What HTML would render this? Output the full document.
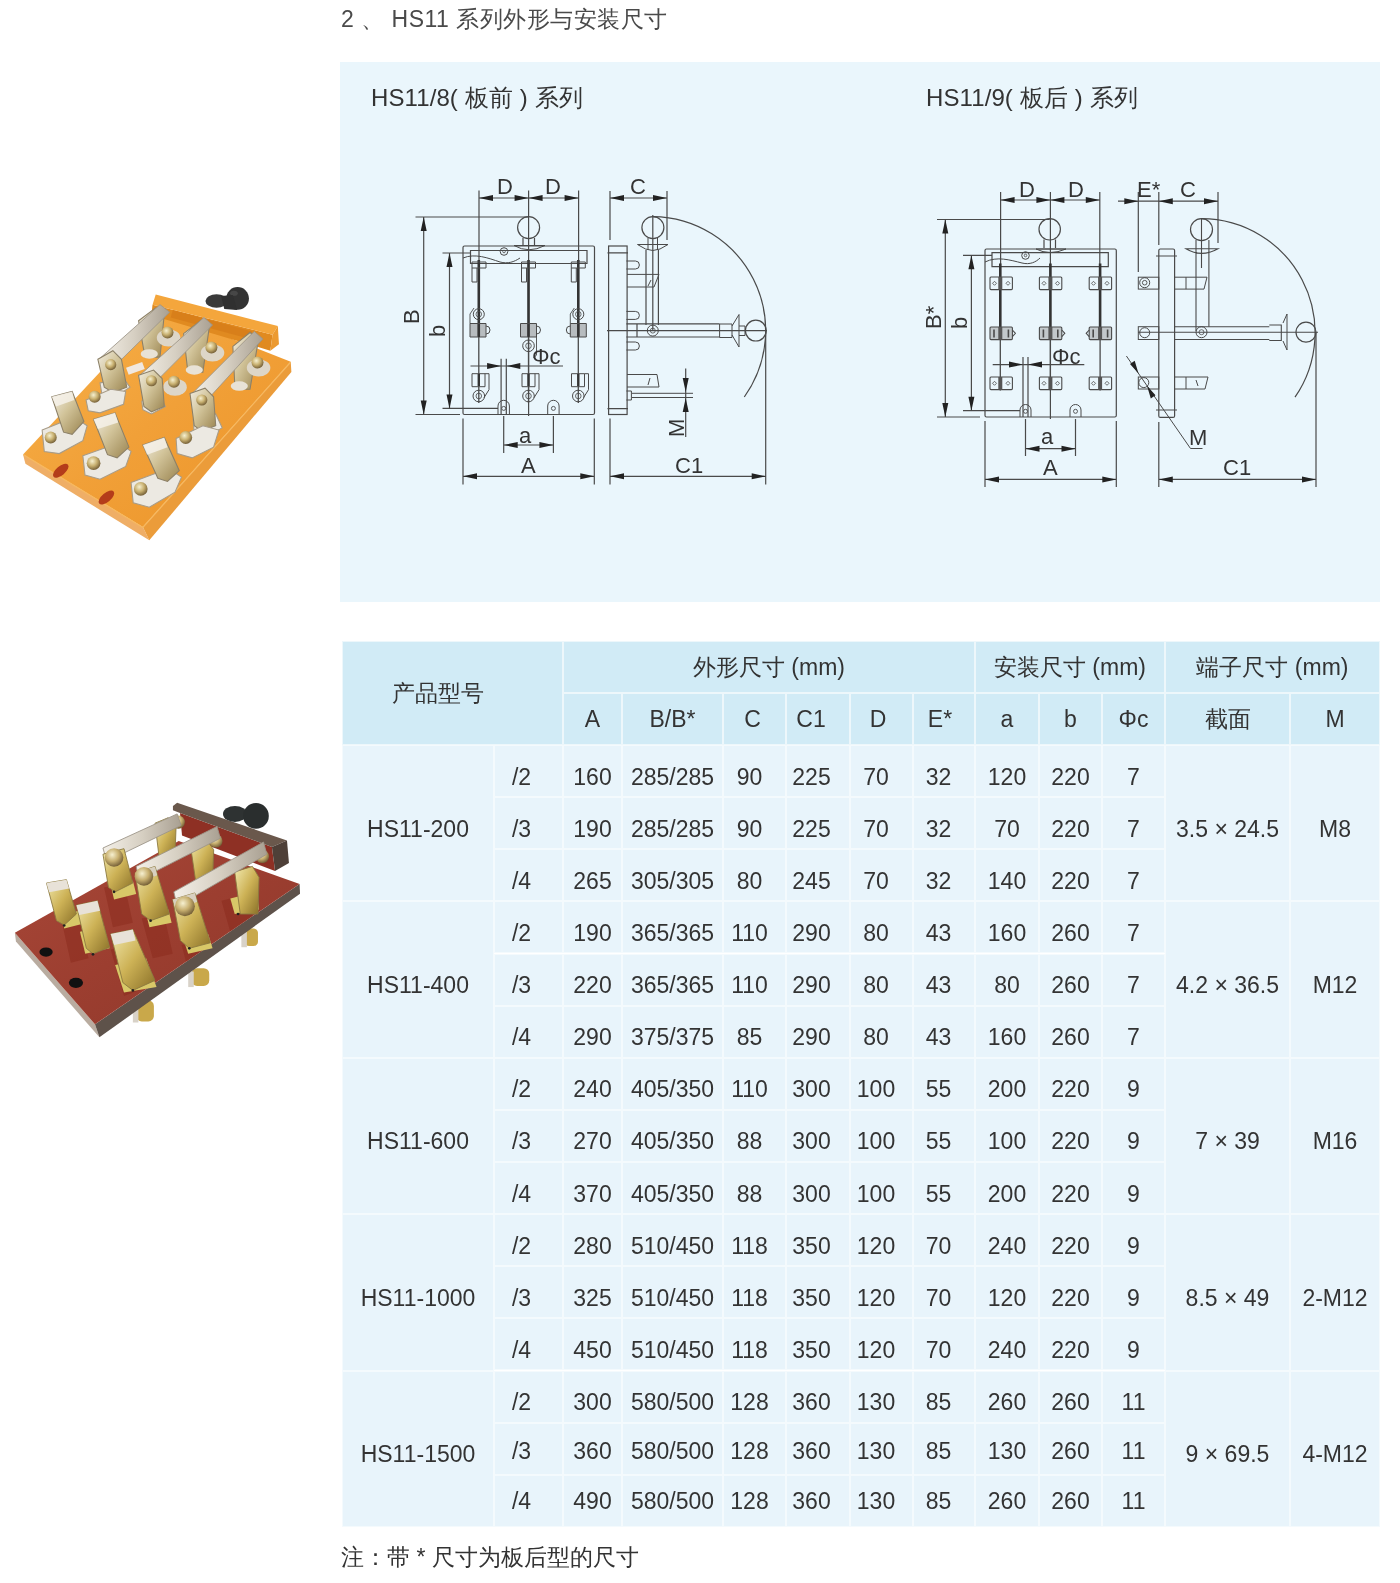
<!DOCTYPE html>
<html><head><meta charset="utf-8">
<style>
html,body{margin:0;padding:0;background:#fff;}
body{width:1400px;height:1583px;position:relative;overflow:hidden;will-change:transform;font-family:"Liberation Sans",sans-serif;color:#333;}
.abs{position:absolute;}
.c{position:absolute;box-sizing:border-box;display:flex;align-items:center;justify-content:center;font-size:23px;border:1px solid rgba(255,255,255,0.65);white-space:nowrap;}
.h{background:#d1ebf6;border-color:rgba(255,255,255,0.6);}
.d{background:#e8f4fb;border-color:rgba(255,255,255,0.5);}
.t{position:relative;top:6px;}
#title{left:341px;top:4px;font-size:23px;color:#4a4a4a;letter-spacing:0.5px;}
#box{left:340px;top:62px;width:1040px;height:540px;background:#eaf6fc;}
.sub{position:absolute;font-size:24px;letter-spacing:0.1px;}
#note{left:341px;top:1542px;font-size:23px;}

</style></head><body>
<div id="title" class="abs">2 、 HS11 系列外形与安装尺寸</div>
<div id="box" class="abs">
<div class="sub" style="left:31px;top:20px">HS11/8( 板前 ) 系列</div>
<div class="sub" style="left:586px;top:20px">HS11/9( 板后 ) 系列</div>
</div>
<svg class="abs" style="left:0;top:0" width="1400" height="620" viewBox="0 0 1400 620">
<g id="d1" fill="none" stroke="#4a4a4a" stroke-width="1.2">
<!-- panel -->
<rect x="463" y="246" width="131.5" height="168.5" rx="1.5"/>
<!-- top bar -->
<path d="M470.5 250.5 H587 V263.5 H470.5 Z"/>
<path d="M463 258 C475 253,488 258,500 262 C508 264,514 262,520 258" stroke-width="1"/>
<!-- handle base + knob -->
<circle cx="528.6" cy="227.6" r="11"/>
<path d="M523 238 V245.5 M534.5 238 V245.5"/>
<path d="M514 245.5 Q528.6 254 545 245.5 Z" stroke-width="1"/>
<circle cx="504" cy="251.5" r="3.8" stroke-width="1"/><circle cx="504" cy="251.5" r="1.3" stroke-width="0.8"/>
<!-- centre line -->
<path d="M528.6 190.5 V416" stroke-width="1.2"/>
<!-- D ext lines -->
<path d="M479 190.5 V262 M578.6 190.5 V262"/>
<!-- D arrow line -->
<path d="M479 198 H578.6"/>
<!-- B dim -->
<path d="M415.5 217 H528.6 M415.5 414.5 H460 M423.7 217 V414.5"/>
<!-- b dim -->
<path d="M442.5 253 H470 M442.5 408.4 H498 M449.5 253 V408.4"/>
<!-- blades -->
<g stroke="#333" stroke-width="2.6">
<path d="M478.8 260 V336 M528.5 260 V336 M578.3 260 V336"/>
</g>
<path d="M478.8 336 V403 M528.5 336 V403 M578.3 336 V403" stroke-width="1.3"/>
<!-- upper contacts -->
<g stroke-width="1">
<path d="M472 262 h14 v6 h-14 z M528.5 262 m-7 0 h14 v6 h-14 z M571.3 262 h14 v6 h-14 z"/>
<path d="M472 268 v14 h5 v-14 M521.5 268 v14 h5 v-14 M571.3 268 v14 h5 v-14"/>
<circle cx="478.8" cy="314.2" r="5.5"/><circle cx="578.3" cy="314.2" r="5.5"/>
<path d="M470 323.5 h16 v13.5 h-16 z M520.5 323.5 h16 v13.5 h-16 z M570.3 323.5 h16 v13.5 h-16 z" fill="#8c8c8c" fill-opacity="0.55"/><path d="M470 314 l4 -6 M570.3 314 l4 -6 M470 314 V323.5 M570.3 314 V323.5 M536.5 337 V355 l-3 3" stroke-width="0.9"/>
<path d="M486 326 a4 4 0 0 1 0 8 M536.5 326 a4 4 0 0 1 0 8 M570.3 326 a4 4 0 0 0 0 8"/>
<circle cx="528.5" cy="345.8" r="5.8"/><g stroke-width="0.8"><circle cx="478.8" cy="314.2" r="2.8"/><circle cx="578.3" cy="314.2" r="2.8"/><circle cx="528.5" cy="345.8" r="2.8"/><circle cx="478.8" cy="396" r="2.8"/><circle cx="528.5" cy="396" r="2.8"/><circle cx="578.3" cy="396" r="2.8"/></g>
<path d="M472 373.7 h13 v13 h-13 z M522 373.7 h13 v13 h-13 z M571.5 373.7 h13 v13 h-13 z"/>
<circle cx="478.8" cy="396" r="5.8"/><circle cx="528.5" cy="396" r="5.8"/><circle cx="578.3" cy="396" r="5.8"/>
<path d="M485 373.7 h4 v16 l-5 8 M535 373.7 h4 v16 l-5 8 M584.5 373.7 h4 v16 l-5 8"/>
</g>
<g stroke="#333" stroke-width="2.4">
<path d="M478.8 374 V386 M528.5 374 V386 M578.3 374 V386 M478.8 324 V337 M528.5 324 V337 M578.3 324 V337"/>
</g>
<!-- Phi c -->
<path d="M470.5 366 H563 M501.1 358.7 V414.5 M506.3 358.7 V414.5"/>
<!-- mount holes -->
<path d="M498 414.5 V406 a5.7 5.7 0 0 1 11.4 0 V414.5 M547.7 414.5 V406 a5.7 5.7 0 0 1 11.4 0 V414.5" stroke-width="1"/>
<circle cx="503.7" cy="408.4" r="2" stroke-width="0.9"/><circle cx="553.4" cy="408.4" r="2" stroke-width="0.9"/>
<!-- a dim -->
<path d="M503.7 416 V453 M553.4 416 V453 M503.7 445 H553.4"/>
<!-- A dim -->
<path d="M463 418.6 V484.5 M594.3 418.6 V484.5 M463 476.3 H594.3"/>
<!-- side view -->
<rect x="608.6" y="246" width="18.5" height="168.5"/>
<path d="M610 191 V240 M610 418.6 V484.5 M667 191 V240 M610 198 H667"/>
<path d="M607.5 252.8 H628 M607.5 408.6 H628" stroke-width="1.2"/>
<!-- side knob -->
<circle cx="652.9" cy="227.6" r="11"/>
<path d="M637.5 244.5 H668 L660 249 Q652.8 252 645.5 249 Z" stroke-width="1"/>
<path d="M646 250 V325 M658.4 250 V325 M652.8 215 V330" /><path d="M648 238 V250 M657.5 238 V250" stroke-width="1"/>
<path d="M627 274.4 H659 L654 287 H627 M651 280 L648 286" stroke-width="1"/>
<!-- arc -->
<path d="M652.9 216.6 A114 114 0 0 1 744.3 397"/>
<!-- horizontal handle -->
<path d="M607 330.6 H767 M626.4 323.8 H719.6 M626.4 337 H719.6 M637 323.8 V337"/>
<path d="M719.6 324 H732 V337.5 H719.6 Z M732 326 L739 314.5 V347 L732 335 M739 326 H745 V335.5 H739" stroke-width="1"/>
<circle cx="755.8" cy="330.6" r="10.4"/>
<circle cx="652.8" cy="330.6" r="5.5" stroke-width="1"/><circle cx="652.8" cy="330.6" r="2.5" stroke-width="0.8"/>
<!-- bolts on side panel -->
<path d="M626.4 261 h9 a4 4 0 0 1 0 8 h-9 M626.4 311.4 h9 a4 4 0 0 1 0 8 h-9 M626.4 342 h9 a4 4 0 0 1 0 8 h-9 M626.4 391 h5 v9 h-5" stroke-width="1"/>
<path d="M627 374.5 H657 L659 387 H627 M650 378 L648 385" stroke-width="1"/>
<path d="M632 393.3 H693 M632 397.5 H693" stroke-width="1"/>
<!-- M dim -->
<path d="M685.7 368.6 V437"/>
<!-- C1 dim -->
<path d="M765.7 331 V484.5 M610 476.3 H765.7"/>
</g>
<g fill="#222" stroke="none">
<!-- arrowheads -->
<path d="M479 198 l14 -3 v6 z M528.6 198 l-14 -3 v6 z M528.6 198 l14 -3 v6 z M578.6 198 l-14 -3 v6 z"/>
<path d="M423.7 217 l-3 14 h6 z M423.7 414.5 l-3 -14 h6 z"/>
<path d="M449.5 253 l-3 14 h6 z M449.5 408.4 l-3 -14 h6 z"/>
<path d="M501.1 366 l-14 -3 v6 z M506.3 366 l14 -3 v6 z"/>
<path d="M503.7 445 l14 -3 v6 z M553.4 445 l-14 -3 v6 z"/>
<path d="M463 476.3 l14 -3 v6 z M594.3 476.3 l-14 -3 v6 z"/>
<path d="M610 198 l14 -3 v6 z M667 198 l-14 -3 v6 z"/>
<path d="M610 476.3 l14 -3 v6 z M765.7 476.3 l-14 -3 v6 z"/>
<path d="M685.7 392 l-3 -14 h6 z M685.7 398 l-3 14 h6 z"/>
</g>
<g fill="#333" stroke="none" font-family="Liberation Sans, sans-serif" font-size="22" style="will-change:transform">
<text x="497" y="194">D</text><text x="545" y="194">D</text>
<text x="630" y="194">C</text>
<text x="519" y="443">a</text>
<text x="521" y="473">A</text>
<text x="675" y="473">C1</text>
<text x="532" y="364">Φc</text>
<text transform="translate(419,324) rotate(-90)">B</text>
<text transform="translate(445,337) rotate(-90)">b</text>
<text transform="translate(684,437) rotate(-90)">M</text>
</g>

<g id="d2" fill="none" stroke="#4a4a4a" stroke-width="1.2">
<rect x="985" y="249" width="131.3" height="168" rx="1.5"/>
<path d="M992 252.7 H1108.3 V266.6 H992 Z"/>
<path d="M985 262 C997 256,1010 260,1022 263 C1030 265,1036 262,1040 258" stroke-width="1"/>
<circle cx="1025.5" cy="255.5" r="3.8" stroke-width="1"/><circle cx="1025.5" cy="255.5" r="1.3" stroke-width="0.8"/>
<circle cx="1049.7" cy="229.3" r="10.7"/>
<path d="M1044 239.5 V248 M1055.5 239.5 V248"/>
<path d="M1036 249 Q1049.7 256 1066 249 Z" stroke-width="1"/>
<path d="M1050.4 192 V419"/>
<path d="M1000.6 192 V264 M1099.8 192 V264 M1000.6 200 H1099.8"/>
<path d="M937 219.5 H1049.7 M937 417 H980 M945.3 219.5 V417"/>
<path d="M963 255.3 H992 M963 410.7 H1020 M971.4 255.3 V410.7"/>
<g stroke="#333" stroke-width="2.6">
<path d="M1000.3 263.5 V337.4 M1050.4 263.5 V337.4 M1100.1 263.5 V337.4"/>
</g>
<path d="M1000.3 337 V390.5 M1050.4 337 V390.5 M1100.1 337 V390.5" stroke-width="1.3"/>
<g stroke-width="1.1">
<rect x="990" y="277" width="22.4" height="12.6" rx="1"/><rect x="1039.4" y="277" width="22.4" height="12.6" rx="1"/><rect x="1089.2" y="277" width="22.4" height="12.6" rx="1"/>
<g fill="#9a9a9a" fill-opacity="0.5"><rect x="990" y="327" width="22.4" height="12.6" rx="1"/><rect x="1039.4" y="327" width="22.4" height="12.6" rx="1"/><rect x="1089.2" y="327" width="22.4" height="12.6" rx="1"/></g><path d="M994 329.5 v8 M1008.4 329.5 v8 M1043.4 329.5 v8 M1057.8 329.5 v8 M1093.2 329.5 v8 M1107.6 329.5 v8" stroke-width="1.6"/>
<rect x="990" y="377" width="22.4" height="12.6" rx="1"/><rect x="1039.4" y="377" width="22.4" height="12.6" rx="1"/><rect x="1089.2" y="377" width="22.4" height="12.6" rx="1"/>
<path d="M1012.4 330 l3 3.3 l-3 3.3 M1061.8 330 l3 3.3 l-3 3.3 M1089.2 330 l-3 3.3 l3 3.3"/><g stroke-width="0.8"><path d="M992.5 283.3 l2 -2 l2 2 l-2 2 z"/><path d="M992.5 383.3 l2 -2 l2 2 l-2 2 z"/><path d="M1006 283.3 l2 -2 l2 2 l-2 2 z"/><path d="M1006 383.3 l2 -2 l2 2 l-2 2 z"/><path d="M1042 283.3 l2 -2 l2 2 l-2 2 z"/><path d="M1042 383.3 l2 -2 l2 2 l-2 2 z"/><path d="M1055.5 283.3 l2 -2 l2 2 l-2 2 z"/><path d="M1055.5 383.3 l2 -2 l2 2 l-2 2 z"/><path d="M1091.5 283.3 l2 -2 l2 2 l-2 2 z"/><path d="M1091.5 383.3 l2 -2 l2 2 l-2 2 z"/><path d="M1105 283.3 l2 -2 l2 2 l-2 2 z"/><path d="M1105 383.3 l2 -2 l2 2 l-2 2 z"/></g>
</g>
<g stroke="#555" stroke-width="4">
<path d="M1000.3 277 V289.6 M1050.4 277 V289.6 M1100.1 277 V289.6 M1000.3 327 V339.6 M1050.4 327 V339.6 M1100.1 327 V339.6 M1000.3 377 V389.6 M1050.4 377 V389.6 M1100.1 377 V389.6"/>
</g>
<path d="M992.7 364.6 H1084.3 M1023 357 V417 M1028 357 V417"/>
<path d="M1020 417 V410 a5.5 5.5 0 0 1 11 0 V417 M1070 417 V410 a5.5 5.5 0 0 1 11 0 V417" stroke-width="1"/>
<circle cx="1025.5" cy="411.3" r="2" stroke-width="0.9"/><circle cx="1075.5" cy="411.3" r="2" stroke-width="0.9"/>
<path d="M1025.5 419 V456 M1075.5 419 V456 M1025.5 448.7 H1075.5"/>
<path d="M985 421 V487 M1116.3 421 V487 M985 479.4 H1116.3"/>
<!-- side view -->
<rect x="1158.8" y="249" width="15.8" height="168.4" rx="1.5"/>
<path d="M1156 256 H1177 M1156 410 H1177" stroke-width="1"/>
<path d="M1138.3 192 V272 M1158.8 192 V245 M1218 192 V243 M1118 201.2 H1218"/>
<circle cx="1201.5" cy="229.6" r="11"/>
<path d="M1186 248.8 Q1201.5 258 1218 248.8 Z M1196 240 V270 M1208.9 240 V270 M1196 270 V331 M1208.9 262 V326.7" stroke-width="1.1"/>
<path d="M1174.6 277.2 H1207 L1204 289.1 H1174.6 M1186 277.2 V289.1" stroke-width="1"/>
<rect x="1138.3" y="277.2" width="20.5" height="11.9" stroke-width="1"/>
<circle cx="1144.7" cy="282.7" r="5" stroke-width="1"/><circle cx="1144.7" cy="282.7" r="2.3" stroke-width="0.9"/>
<path d="M1138 332.2 H1318 M1174.6 326.7 H1269.3 M1174.6 339.5 H1269.3 M1269.3 325 H1281.3 V340.5 H1269.3" stroke-width="1.1"/>
<path d="M1283 323 L1287 314 V350 L1283 341" stroke-width="1"/>
<circle cx="1306" cy="332.2" r="10"/>
<circle cx="1201.5" cy="332.2" r="5.5" stroke-width="1"/><circle cx="1201.5" cy="332.2" r="2.5" stroke-width="0.8"/><path d="M1201.5 218 V268" stroke-width="1.1"/>
<rect x="1138.3" y="326.7" width="20.5" height="12.8" stroke-width="1"/>
<circle cx="1144.7" cy="332.7" r="5" stroke-width="1"/>
<path d="M1174.6 377 H1208 L1205 389 H1174.6 M1186 377 V389 M1196 380 L1198 386" stroke-width="1"/>
<rect x="1138.3" y="377" width="20.5" height="12" stroke-width="1"/>
<circle cx="1143.8" cy="382.6" r="5" stroke-width="1"/>
<path d="M1126.4 356 L1190.5 448.5 H1202.5" stroke-width="1"/>
<path d="M1201.5 218.6 A114 114 0 0 1 1295 397.2"/>
<path d="M1316 332.2 V487 M1158.8 422 V487 M1158.8 479.4 H1316"/>
</g>
<g fill="#222" stroke="none">
<path d="M1000.6 200 l14 -3 v6 z M1050.4 200 l-14 -3 v6 z M1050.4 200 l14 -3 v6 z M1099.8 200 l-14 -3 v6 z"/>
<path d="M945.3 219.5 l-3 14 h6 z M945.3 417 l-3 -14 h6 z"/>
<path d="M971.4 255.3 l-3 14 h6 z M971.4 410.7 l-3 -14 h6 z"/>
<path d="M1023 364.6 l-14 -3 v6 z M1028 364.6 l14 -3 v6 z"/>
<path d="M1025.5 448.7 l14 -3 v6 z M1075.5 448.7 l-14 -3 v6 z"/>
<path d="M985 479.4 l14 -3 v6 z M1116.3 479.4 l-14 -3 v6 z"/>
<path d="M1138.3 201.2 l-14 -3 v6 z M1158.8 201.2 l14 -3 v6 z M1218 201.2 l-14 -3 v6 z"/>
<path d="M1158.8 479.4 l14 -3 v6 z M1316 479.4 l-14 -3 v6 z"/>
<path d="M1138.5 373.5 l-8.5 -9.5 l4.7 -3.3 z M1147 385.8 l8.5 9.5 l-4.7 3.3 z"/>
</g>
<g fill="#333" stroke="none" font-family="Liberation Sans, sans-serif" font-size="22" style="will-change:transform">
<text x="1019" y="197">D</text><text x="1068" y="197">D</text>
<text x="1137" y="197">E*</text>
<text x="1180" y="197">C</text>
<text x="1041" y="444">a</text>
<text x="1043" y="475">A</text>
<text x="1223" y="475">C1</text>
<text x="1052" y="364">Φc</text>
<text x="1189" y="445">M</text>
<text transform="translate(941,329) rotate(-90)">B*</text>
<text transform="translate(967,329) rotate(-90)">b</text>
</g>

</svg>
<svg class="abs" style="left:0;top:0" width="340" height="1583" viewBox="0 0 340 1583">
<defs>
<linearGradient id="or1" x1="0" y1="0" x2="1" y2="1">
<stop offset="0" stop-color="#f7b24a"/><stop offset="0.5" stop-color="#f1a038"/><stop offset="1" stop-color="#ec9428"/>
</linearGradient>
<linearGradient id="sil" x1="0" y1="0" x2="1" y2="0">
<stop offset="0" stop-color="#f4f0e8"/><stop offset="0.5" stop-color="#d6cfc2"/><stop offset="1" stop-color="#a9a092"/>
</linearGradient>
<linearGradient id="gold" x1="0" y1="0" x2="1" y2="1">
<stop offset="0" stop-color="#f2eee4"/><stop offset="0.45" stop-color="#d2c49a"/><stop offset="1" stop-color="#9a8450"/>
</linearGradient>
<radialGradient id="nut" cx="0.4" cy="0.35" r="0.7">
<stop offset="0" stop-color="#f6f0d0"/><stop offset="0.5" stop-color="#c8b070"/><stop offset="1" stop-color="#6a5530"/>
</radialGradient>
<radialGradient id="blk" cx="0.4" cy="0.35" r="0.7">
<stop offset="0" stop-color="#6a6a6a"/><stop offset="0.5" stop-color="#2c2c2c"/><stop offset="1" stop-color="#111"/>
</radialGradient>
</defs>
<g transform="translate(10 280) scale(0.21429)">
<!-- board sides -->
<path d="M61 814 L620 1153 L650 1215 L72 858 Z" fill="#efae66"/>
<path d="M620 1153 L1310 381 L1313 429 L650 1215 Z" fill="#eb9c3a"/>
<!-- board top -->
<path d="M61 814 L620 1153 L1310 381 L690 140 Z" fill="url(#or1)"/>
<path d="M64 816 L620 1155 L1309 384" fill="none" stroke="#f6b860" stroke-width="6"/>
<!-- slots -->
<ellipse cx="237" cy="890" rx="44" ry="21" transform="rotate(-40 237 890)" fill="#b43c1a"/>
<ellipse cx="450" cy="1015" rx="44" ry="21" transform="rotate(-40 450 1015)" fill="#b43c1a"/>
<!-- handle bar -->
<path d="M665 115 L1225 255 L1215 330 L660 165 Z" fill="#e08a20"/>
<path d="M680 68 L1250 215 L1225 255 L665 115 Z" fill="#f4a63c"/>
<path d="M1225 255 L1250 215 L1255 300 L1215 330 Z" fill="#ec9a30"/>
<path d="M760 140 L1130 240 L1120 275 L750 175 Z" fill="#d47a18" opacity="0.7"/>
<!-- knob -->
<ellipse cx="964" cy="98" rx="52" ry="32" fill="#3a3a3a"/>
<circle cx="1062" cy="86" r="53" fill="#333"/><ellipse cx="1045" cy="62" rx="18" ry="12" fill="#555" opacity="0.6"/>
<path d="M985 75 L1040 70 L1060 140 L1000 135 Z" fill="#303030"/>
<!-- back jaw clips -->
<g fill="url(#gold)" stroke="#8c8068" stroke-width="5">
<path d="M600 190 L680 130 L720 160 L700 360 L630 360 Z"/>
<path d="M810 250 L890 190 L930 220 L900 430 L830 430 Z"/>
<path d="M1040 310 L1120 245 L1160 275 L1120 510 L1050 510 Z"/>
</g>
<g fill="#e8e2d6">
<ellipse cx="650" cy="345" rx="40" ry="22"/><ellipse cx="860" cy="420" rx="40" ry="22"/><ellipse cx="1070" cy="495" rx="40" ry="22"/>
</g>
<!-- back nuts -->
<g fill="#ddd6c8"><ellipse cx="740" cy="270" rx="55" ry="40"/><ellipse cx="945" cy="340" rx="55" ry="40"/><ellipse cx="1160" cy="410" rx="55" ry="40"/><ellipse cx="770" cy="500" rx="55" ry="40"/></g>
<g fill="url(#nut)"><circle cx="735" cy="245" r="28"/><circle cx="940" cy="315" r="28"/><circle cx="1155" cy="385" r="28"/><circle cx="765" cy="475" r="28"/></g>
<!-- blades -->
<g fill="url(#sil)" stroke="#9c9488" stroke-width="4">
<path d="M415 370 L700 115 L745 150 L485 405 Z"/>
<path d="M600 450 L905 175 L945 210 L670 485 Z"/>
<path d="M850 530 L1140 240 L1180 275 L915 565 Z"/>
</g>
<!-- hinge pads -->
<g fill="#ece9e2" stroke="#a89c88" stroke-width="5">
<path d="M420 480 L530 460 L560 500 L470 560 L430 540 Z"/>
<path d="M615 565 L700 545 L725 590 L660 625 L620 605 Z"/>
<path d="M855 650 L960 625 L990 690 L900 740 L860 720 Z"/>
</g>
<!-- hinges -->
<g fill="url(#gold)" stroke="#8c8068" stroke-width="5">
<path d="M410 370 L480 330 L520 370 L545 500 L480 525 L440 500 Z"/>
<path d="M600 445 L670 420 L710 460 L720 590 L660 615 L625 590 Z"/>
<path d="M840 530 L910 505 L950 545 L960 680 L895 705 L860 680 Z"/>
</g>
<g fill="url(#nut)"><circle cx="470" cy="395" r="26"/><circle cx="660" cy="470" r="26"/><circle cx="895" cy="560" r="26"/></g>
<!-- front pads -->
<g fill="#ece9e2" stroke="#a89c88" stroke-width="5">
<path d="M150 700 L300 640 L360 680 L340 750 L230 810 L160 800 Z"/>
<path d="M340 820 L510 760 L565 800 L540 870 L420 930 L350 910 Z"/>
<path d="M565 945 L740 880 L800 920 L770 990 L650 1060 L575 1040 Z"/>
<path d="M775 740 L900 680 L975 700 L950 780 L850 830 L780 810 Z"/>
<path d="M355 560 L470 510 L540 520 L530 580 L420 620 L365 610 Z"/>
</g>
<!-- front clips -->
<g fill="url(#gold)" stroke="#8c8068" stroke-width="5">
<path d="M195 545 L290 520 L345 660 L290 720 L250 710 Z"/>
<path d="M390 650 L490 620 L555 780 L500 830 L455 815 Z"/>
<path d="M620 770 L720 735 L790 890 L735 940 L690 925 Z"/>
</g>
<g fill="#f6f2ea" opacity="0.85">
<path d="M195 545 L290 520 L300 560 L215 590 Z"/>
<path d="M390 650 L490 620 L505 665 L410 695 Z"/>
<path d="M620 770 L720 735 L735 780 L640 815 Z"/>
</g>
<!-- front nuts -->
<g fill="url(#nut)"><circle cx="190" cy="735" r="28"/><circle cx="390" cy="855" r="32"/><circle cx="610" cy="975" r="32"/><circle cx="820" cy="735" r="30"/><circle cx="395" cy="545" r="28"/></g>
<rect x="545" y="395" width="80" height="35" fill="#f0e8e0" transform="rotate(-20 585 412)"/>
</g>

<defs>
<linearGradient id="red1" x1="0" y1="0" x2="1" y2="1">
<stop offset="0" stop-color="#a84838"/><stop offset="0.5" stop-color="#9c3e30"/><stop offset="1" stop-color="#8e382a"/>
</linearGradient>
<linearGradient id="gold2" x1="0" y1="0" x2="1" y2="1">
<stop offset="0" stop-color="#f2eab0"/><stop offset="0.5" stop-color="#cdb256"/><stop offset="1" stop-color="#8a7028"/>
</linearGradient>
</defs>
<g transform="translate(0 790) scale(0.22143)">
<!-- bolts under -->
<g fill="#c9a84a"><rect x="1105" y="625" width="60" height="80" rx="20"/><rect x="865" y="805" width="80" height="80" rx="25"/><rect x="615" y="950" width="80" height="95" rx="25"/></g>
<g fill="#d8d2c8"><rect x="1090" y="640" width="25" height="70"/><rect x="850" y="820" width="25" height="70"/><rect x="600" y="970" width="25" height="80"/></g>
<!-- board sides -->
<path d="M67 645 L429 1058 L449 1117 L72 684 Z" fill="#b9aca0"/>
<path d="M429 1058 L1353 424 L1355 468 L449 1117 Z" fill="#5e524a"/>
<!-- board top -->
<path d="M67 645 L429 1058 L1353 424 L807 230 Z" fill="url(#red1)"/>
<!-- holes -->
<ellipse cx="208" cy="732" rx="30" ry="21" fill="#111"/>
<ellipse cx="343" cy="871" rx="32" ry="23" fill="#111"/>
<clipPath id="bt2"><path d="M67 645 L429 1058 L1353 424 L807 230 Z"/></clipPath>
<g fill="#8a2a1c" opacity="0.5" clip-path="url(#bt2)">
<path d="M280 600 L360 580 L400 760 L320 780 Z"/>
<path d="M500 720 L600 700 L640 900 L560 930 Z"/>
<path d="M470 440 L560 420 L600 600 L510 620 Z"/>
<path d="M640 580 L740 560 L780 740 L690 760 Z"/>
<path d="M820 700 L930 680 L960 830 L860 850 Z"/>
<path d="M1000 500 L1120 470 L1150 620 L1040 640 Z"/>
</g>
<g fill="#d8c868">
<path d="M279 564 L356 545 L370 605 L290 625 Z"/>
<path d="M361 640 L470 615 L495 715 L385 740 Z"/>
<path d="M520 790 L660 760 L707 890 L560 915 Z"/>
<path d="M500 430 L600 410 L615 470 L515 495 Z"/>
<path d="M660 560 L760 540 L775 600 L675 620 Z"/>
<path d="M830 680 L940 650 L960 715 L850 740 Z"/>
<path d="M1040 490 L1160 460 L1170 540 L1060 560 Z"/>
</g>
<!-- handle bar -->
<path d="M813 104 L1228 257 L1242 366 L822 205 Z" fill="#8e3024"/>
<path d="M781 72 L800 58 L1296 228 L1228 257 L813 104 L781 92 Z" fill="#6a584c"/>
<path d="M1228 257 L1296 228 L1305 330 L1242 366 Z" fill="#4e4038"/>
<!-- knobs -->
<ellipse cx="1061" cy="108" rx="54" ry="36" fill="#2e3232"/>
<circle cx="1156" cy="117" r="58" fill="#2a2e2e"/>
<!-- back clips -->
<g fill="url(#gold2)" stroke="#8a7840" stroke-width="4">
<path d="M700 150 L760 125 L795 170 L790 300 L720 315 Z"/>
<path d="M860 250 L930 220 L965 270 L960 410 L885 420 Z"/>
<path d="M1060 370 L1140 345 L1170 395 L1165 560 L1085 560 Z"/>
</g>
<g fill="url(#nut)"><circle cx="805" cy="145" r="30"/><circle cx="975" cy="230" r="30"/><circle cx="1185" cy="300" r="30"/></g>
<!-- blades -->
<g fill="url(#sil)" stroke="#9c9488" stroke-width="4">
<path d="M465 262 L800 108 L818 160 L482 322 Z"/>
<path d="M615 345 L980 165 L995 218 L628 405 Z"/>
<path d="M785 460 L1190 235 L1205 290 L800 525 Z"/>
</g>
<!-- hinges -->
<g fill="url(#gold2)" stroke="#8a7840" stroke-width="4">
<path d="M465 290 L560 265 L600 420 L520 460 L490 440 Z"/>
<path d="M610 375 L700 345 L765 560 L680 590 L640 560 Z"/>
<path d="M780 495 L880 465 L950 690 L855 715 L815 680 Z"/>
</g>
<g fill="#d8d0c0"><path d="M610 375 L700 345 L710 385 L625 420 Z"/><path d="M780 495 L880 465 L890 505 L795 545 Z"/></g>
<g fill="url(#nut)"><circle cx="515" cy="305" r="42"/><circle cx="650" cy="390" r="42"/><circle cx="835" cy="525" r="45"/></g>
<!-- front clips -->
<g fill="url(#gold2)" stroke="#8a7840" stroke-width="4">
<path d="M210 420 L300 405 L345 560 L290 610 L255 590 Z"/>
<path d="M345 520 L440 500 L495 710 L420 740 L390 715 Z"/>
<path d="M500 650 L600 630 L700 860 L600 905 L555 870 Z"/>
</g>
<g fill="#e8e2d8"><path d="M210 420 L300 405 L312 445 L222 462 Z"/><path d="M345 520 L440 500 L452 545 L358 565 Z"/><path d="M500 650 L600 630 L612 680 L515 700 Z"/></g>
<g fill="#222"><circle cx="290" cy="612" r="6"/><circle cx="420" cy="742" r="6"/><circle cx="600" cy="905" r="6"/><circle cx="515" cy="460" r="6"/><circle cx="680" cy="590" r="6"/><circle cx="855" cy="715" r="6"/><circle cx="1075" cy="560" r="6"/></g>
</g>

</svg>
<div id="tbl">
<div class="c h" style="left:342px;top:641.0px;width:221px;height:104.0px;"><span style="position:relative;left:-15px">产品型号</span></div>
<div class="c h" style="left:563px;top:641.0px;width:412px;height:52.0px;">外形尺寸 (mm)</div>
<div class="c h" style="left:975px;top:641.0px;width:190px;height:52.0px;">安装尺寸 (mm)</div>
<div class="c h" style="left:1165px;top:641.0px;width:215px;height:52.0px;">端子尺寸 (mm)</div>
<div class="c h" style="left:563px;top:693.0px;width:59px;height:52.0px;"><span style="position:relative;left:0px">A</span></div>
<div class="c h" style="left:622px;top:693.0px;width:101px;height:52.0px;"><span style="position:relative;left:0px">B/B*</span></div>
<div class="c h" style="left:723px;top:693.0px;width:63px;height:52.0px;"><span style="position:relative;left:-2px">C</span></div>
<div class="c h" style="left:786px;top:693.0px;width:64px;height:52.0px;"><span style="position:relative;left:-7px">C1</span></div>
<div class="c h" style="left:850px;top:693.0px;width:63px;height:52.0px;"><span style="position:relative;left:-3.5px">D</span></div>
<div class="c h" style="left:913px;top:693.0px;width:62px;height:52.0px;"><span style="position:relative;left:-4px">E*</span></div>
<div class="c h" style="left:975px;top:693.0px;width:64px;height:52.0px;"><span style="position:relative;left:0px">a</span></div>
<div class="c h" style="left:1039px;top:693.0px;width:63px;height:52.0px;"><span style="position:relative;left:0px">b</span></div>
<div class="c h" style="left:1102px;top:693.0px;width:63px;height:52.0px;"><span style="position:relative;left:0px">Φc</span></div>
<div class="c h" style="left:1165px;top:693.0px;width:125px;height:52.0px;"><span style="position:relative;left:0px">截面</span></div>
<div class="c h" style="left:1290px;top:693.0px;width:90px;height:52.0px;"><span style="position:relative;left:0px">M</span></div>
<div class="c d" style="left:342px;top:745.0px;width:152px;height:156.4px;"><span class="t">HS11-200</span></div>
<div class="c d" style="left:1165px;top:745.0px;width:125px;height:156.4px;"><span class="t">3.5 × 24.5</span></div>
<div class="c d" style="left:1290px;top:745.0px;width:90px;height:156.4px;"><span class="t">M8</span></div>
<div class="c d" style="left:494px;top:745.0px;width:69px;height:52.1px;"><span class="t" style="left:-7px;top:6px">/2</span></div>
<div class="c d" style="left:563px;top:745.0px;width:59px;height:52.1px;"><span class="t" style="left:0px;top:6px">160</span></div>
<div class="c d" style="left:622px;top:745.0px;width:101px;height:52.1px;"><span class="t" style="left:0px;top:6px">285/285</span></div>
<div class="c d" style="left:723px;top:745.0px;width:63px;height:52.1px;"><span class="t" style="left:-5px;top:6px">90</span></div>
<div class="c d" style="left:786px;top:745.0px;width:64px;height:52.1px;"><span class="t" style="left:-6.5px;top:6px">225</span></div>
<div class="c d" style="left:850px;top:745.0px;width:63px;height:52.1px;"><span class="t" style="left:-5.5px;top:6px">70</span></div>
<div class="c d" style="left:913px;top:745.0px;width:62px;height:52.1px;"><span class="t" style="left:-5.5px;top:6px">32</span></div>
<div class="c d" style="left:975px;top:745.0px;width:64px;height:52.1px;"><span class="t" style="left:0px;top:6px">120</span></div>
<div class="c d" style="left:1039px;top:745.0px;width:63px;height:52.1px;"><span class="t" style="left:0px;top:6px">220</span></div>
<div class="c d" style="left:1102px;top:745.0px;width:63px;height:52.1px;"><span class="t" style="left:0px;top:6px">7</span></div>
<div class="c d" style="left:494px;top:797.1px;width:69px;height:52.1px;"><span class="t" style="left:-7px;top:6px">/3</span></div>
<div class="c d" style="left:563px;top:797.1px;width:59px;height:52.1px;"><span class="t" style="left:0px;top:6px">190</span></div>
<div class="c d" style="left:622px;top:797.1px;width:101px;height:52.1px;"><span class="t" style="left:0px;top:6px">285/285</span></div>
<div class="c d" style="left:723px;top:797.1px;width:63px;height:52.1px;"><span class="t" style="left:-5px;top:6px">90</span></div>
<div class="c d" style="left:786px;top:797.1px;width:64px;height:52.1px;"><span class="t" style="left:-6.5px;top:6px">225</span></div>
<div class="c d" style="left:850px;top:797.1px;width:63px;height:52.1px;"><span class="t" style="left:-5.5px;top:6px">70</span></div>
<div class="c d" style="left:913px;top:797.1px;width:62px;height:52.1px;"><span class="t" style="left:-5.5px;top:6px">32</span></div>
<div class="c d" style="left:975px;top:797.1px;width:64px;height:52.1px;"><span class="t" style="left:0px;top:6px">70</span></div>
<div class="c d" style="left:1039px;top:797.1px;width:63px;height:52.1px;"><span class="t" style="left:0px;top:6px">220</span></div>
<div class="c d" style="left:1102px;top:797.1px;width:63px;height:52.1px;"><span class="t" style="left:0px;top:6px">7</span></div>
<div class="c d" style="left:494px;top:849.3px;width:69px;height:52.1px;"><span class="t" style="left:-7px;top:6px">/4</span></div>
<div class="c d" style="left:563px;top:849.3px;width:59px;height:52.1px;"><span class="t" style="left:0px;top:6px">265</span></div>
<div class="c d" style="left:622px;top:849.3px;width:101px;height:52.1px;"><span class="t" style="left:0px;top:6px">305/305</span></div>
<div class="c d" style="left:723px;top:849.3px;width:63px;height:52.1px;"><span class="t" style="left:-5px;top:6px">80</span></div>
<div class="c d" style="left:786px;top:849.3px;width:64px;height:52.1px;"><span class="t" style="left:-6.5px;top:6px">245</span></div>
<div class="c d" style="left:850px;top:849.3px;width:63px;height:52.1px;"><span class="t" style="left:-5.5px;top:6px">70</span></div>
<div class="c d" style="left:913px;top:849.3px;width:62px;height:52.1px;"><span class="t" style="left:-5.5px;top:6px">32</span></div>
<div class="c d" style="left:975px;top:849.3px;width:64px;height:52.1px;"><span class="t" style="left:0px;top:6px">140</span></div>
<div class="c d" style="left:1039px;top:849.3px;width:63px;height:52.1px;"><span class="t" style="left:0px;top:6px">220</span></div>
<div class="c d" style="left:1102px;top:849.3px;width:63px;height:52.1px;"><span class="t" style="left:0px;top:6px">7</span></div>
<div class="c d" style="left:342px;top:901.4px;width:152px;height:156.4px;"><span class="t">HS11-400</span></div>
<div class="c d" style="left:1165px;top:901.4px;width:125px;height:156.4px;"><span class="t">4.2 × 36.5</span></div>
<div class="c d" style="left:1290px;top:901.4px;width:90px;height:156.4px;"><span class="t">M12</span></div>
<div class="c d" style="left:494px;top:901.4px;width:69px;height:52.1px;"><span class="t" style="left:-7px;top:6px">/2</span></div>
<div class="c d" style="left:563px;top:901.4px;width:59px;height:52.1px;"><span class="t" style="left:0px;top:6px">190</span></div>
<div class="c d" style="left:622px;top:901.4px;width:101px;height:52.1px;"><span class="t" style="left:0px;top:6px">365/365</span></div>
<div class="c d" style="left:723px;top:901.4px;width:63px;height:52.1px;"><span class="t" style="left:-5px;top:6px">110</span></div>
<div class="c d" style="left:786px;top:901.4px;width:64px;height:52.1px;"><span class="t" style="left:-6.5px;top:6px">290</span></div>
<div class="c d" style="left:850px;top:901.4px;width:63px;height:52.1px;"><span class="t" style="left:-5.5px;top:6px">80</span></div>
<div class="c d" style="left:913px;top:901.4px;width:62px;height:52.1px;"><span class="t" style="left:-5.5px;top:6px">43</span></div>
<div class="c d" style="left:975px;top:901.4px;width:64px;height:52.1px;"><span class="t" style="left:0px;top:6px">160</span></div>
<div class="c d" style="left:1039px;top:901.4px;width:63px;height:52.1px;"><span class="t" style="left:0px;top:6px">260</span></div>
<div class="c d" style="left:1102px;top:901.4px;width:63px;height:52.1px;"><span class="t" style="left:0px;top:6px">7</span></div>
<div class="c d" style="left:494px;top:953.5px;width:69px;height:52.1px;"><span class="t" style="left:-7px;top:6px">/3</span></div>
<div class="c d" style="left:563px;top:953.5px;width:59px;height:52.1px;"><span class="t" style="left:0px;top:6px">220</span></div>
<div class="c d" style="left:622px;top:953.5px;width:101px;height:52.1px;"><span class="t" style="left:0px;top:6px">365/365</span></div>
<div class="c d" style="left:723px;top:953.5px;width:63px;height:52.1px;"><span class="t" style="left:-5px;top:6px">110</span></div>
<div class="c d" style="left:786px;top:953.5px;width:64px;height:52.1px;"><span class="t" style="left:-6.5px;top:6px">290</span></div>
<div class="c d" style="left:850px;top:953.5px;width:63px;height:52.1px;"><span class="t" style="left:-5.5px;top:6px">80</span></div>
<div class="c d" style="left:913px;top:953.5px;width:62px;height:52.1px;"><span class="t" style="left:-5.5px;top:6px">43</span></div>
<div class="c d" style="left:975px;top:953.5px;width:64px;height:52.1px;"><span class="t" style="left:0px;top:6px">80</span></div>
<div class="c d" style="left:1039px;top:953.5px;width:63px;height:52.1px;"><span class="t" style="left:0px;top:6px">260</span></div>
<div class="c d" style="left:1102px;top:953.5px;width:63px;height:52.1px;"><span class="t" style="left:0px;top:6px">7</span></div>
<div class="c d" style="left:494px;top:1005.6px;width:69px;height:52.1px;"><span class="t" style="left:-7px;top:6px">/4</span></div>
<div class="c d" style="left:563px;top:1005.6px;width:59px;height:52.1px;"><span class="t" style="left:0px;top:6px">290</span></div>
<div class="c d" style="left:622px;top:1005.6px;width:101px;height:52.1px;"><span class="t" style="left:0px;top:6px">375/375</span></div>
<div class="c d" style="left:723px;top:1005.6px;width:63px;height:52.1px;"><span class="t" style="left:-5px;top:6px">85</span></div>
<div class="c d" style="left:786px;top:1005.6px;width:64px;height:52.1px;"><span class="t" style="left:-6.5px;top:6px">290</span></div>
<div class="c d" style="left:850px;top:1005.6px;width:63px;height:52.1px;"><span class="t" style="left:-5.5px;top:6px">80</span></div>
<div class="c d" style="left:913px;top:1005.6px;width:62px;height:52.1px;"><span class="t" style="left:-5.5px;top:6px">43</span></div>
<div class="c d" style="left:975px;top:1005.6px;width:64px;height:52.1px;"><span class="t" style="left:0px;top:6px">160</span></div>
<div class="c d" style="left:1039px;top:1005.6px;width:63px;height:52.1px;"><span class="t" style="left:0px;top:6px">260</span></div>
<div class="c d" style="left:1102px;top:1005.6px;width:63px;height:52.1px;"><span class="t" style="left:0px;top:6px">7</span></div>
<div class="c d" style="left:342px;top:1057.8px;width:152px;height:156.4px;"><span class="t">HS11-600</span></div>
<div class="c d" style="left:1165px;top:1057.8px;width:125px;height:156.4px;"><span class="t">7 × 39</span></div>
<div class="c d" style="left:1290px;top:1057.8px;width:90px;height:156.4px;"><span class="t">M16</span></div>
<div class="c d" style="left:494px;top:1057.8px;width:69px;height:52.1px;"><span class="t" style="left:-7px;top:6px">/2</span></div>
<div class="c d" style="left:563px;top:1057.8px;width:59px;height:52.1px;"><span class="t" style="left:0px;top:6px">240</span></div>
<div class="c d" style="left:622px;top:1057.8px;width:101px;height:52.1px;"><span class="t" style="left:0px;top:6px">405/350</span></div>
<div class="c d" style="left:723px;top:1057.8px;width:63px;height:52.1px;"><span class="t" style="left:-5px;top:6px">110</span></div>
<div class="c d" style="left:786px;top:1057.8px;width:64px;height:52.1px;"><span class="t" style="left:-6.5px;top:6px">300</span></div>
<div class="c d" style="left:850px;top:1057.8px;width:63px;height:52.1px;"><span class="t" style="left:-5.5px;top:6px">100</span></div>
<div class="c d" style="left:913px;top:1057.8px;width:62px;height:52.1px;"><span class="t" style="left:-5.5px;top:6px">55</span></div>
<div class="c d" style="left:975px;top:1057.8px;width:64px;height:52.1px;"><span class="t" style="left:0px;top:6px">200</span></div>
<div class="c d" style="left:1039px;top:1057.8px;width:63px;height:52.1px;"><span class="t" style="left:0px;top:6px">220</span></div>
<div class="c d" style="left:1102px;top:1057.8px;width:63px;height:52.1px;"><span class="t" style="left:0px;top:6px">9</span></div>
<div class="c d" style="left:494px;top:1109.9px;width:69px;height:52.1px;"><span class="t" style="left:-7px;top:6px">/3</span></div>
<div class="c d" style="left:563px;top:1109.9px;width:59px;height:52.1px;"><span class="t" style="left:0px;top:6px">270</span></div>
<div class="c d" style="left:622px;top:1109.9px;width:101px;height:52.1px;"><span class="t" style="left:0px;top:6px">405/350</span></div>
<div class="c d" style="left:723px;top:1109.9px;width:63px;height:52.1px;"><span class="t" style="left:-5px;top:6px">88</span></div>
<div class="c d" style="left:786px;top:1109.9px;width:64px;height:52.1px;"><span class="t" style="left:-6.5px;top:6px">300</span></div>
<div class="c d" style="left:850px;top:1109.9px;width:63px;height:52.1px;"><span class="t" style="left:-5.5px;top:6px">100</span></div>
<div class="c d" style="left:913px;top:1109.9px;width:62px;height:52.1px;"><span class="t" style="left:-5.5px;top:6px">55</span></div>
<div class="c d" style="left:975px;top:1109.9px;width:64px;height:52.1px;"><span class="t" style="left:0px;top:6px">100</span></div>
<div class="c d" style="left:1039px;top:1109.9px;width:63px;height:52.1px;"><span class="t" style="left:0px;top:6px">220</span></div>
<div class="c d" style="left:1102px;top:1109.9px;width:63px;height:52.1px;"><span class="t" style="left:0px;top:6px">9</span></div>
<div class="c d" style="left:494px;top:1162.0px;width:69px;height:52.1px;"><span class="t" style="left:-7px;top:6px">/4</span></div>
<div class="c d" style="left:563px;top:1162.0px;width:59px;height:52.1px;"><span class="t" style="left:0px;top:6px">370</span></div>
<div class="c d" style="left:622px;top:1162.0px;width:101px;height:52.1px;"><span class="t" style="left:0px;top:6px">405/350</span></div>
<div class="c d" style="left:723px;top:1162.0px;width:63px;height:52.1px;"><span class="t" style="left:-5px;top:6px">88</span></div>
<div class="c d" style="left:786px;top:1162.0px;width:64px;height:52.1px;"><span class="t" style="left:-6.5px;top:6px">300</span></div>
<div class="c d" style="left:850px;top:1162.0px;width:63px;height:52.1px;"><span class="t" style="left:-5.5px;top:6px">100</span></div>
<div class="c d" style="left:913px;top:1162.0px;width:62px;height:52.1px;"><span class="t" style="left:-5.5px;top:6px">55</span></div>
<div class="c d" style="left:975px;top:1162.0px;width:64px;height:52.1px;"><span class="t" style="left:0px;top:6px">200</span></div>
<div class="c d" style="left:1039px;top:1162.0px;width:63px;height:52.1px;"><span class="t" style="left:0px;top:6px">220</span></div>
<div class="c d" style="left:1102px;top:1162.0px;width:63px;height:52.1px;"><span class="t" style="left:0px;top:6px">9</span></div>
<div class="c d" style="left:342px;top:1214.2px;width:152px;height:156.4px;"><span class="t">HS11-1000</span></div>
<div class="c d" style="left:1165px;top:1214.2px;width:125px;height:156.4px;"><span class="t">8.5 × 49</span></div>
<div class="c d" style="left:1290px;top:1214.2px;width:90px;height:156.4px;"><span class="t">2-M12</span></div>
<div class="c d" style="left:494px;top:1214.2px;width:69px;height:52.1px;"><span class="t" style="left:-7px;top:6px">/2</span></div>
<div class="c d" style="left:563px;top:1214.2px;width:59px;height:52.1px;"><span class="t" style="left:0px;top:6px">280</span></div>
<div class="c d" style="left:622px;top:1214.2px;width:101px;height:52.1px;"><span class="t" style="left:0px;top:6px">510/450</span></div>
<div class="c d" style="left:723px;top:1214.2px;width:63px;height:52.1px;"><span class="t" style="left:-5px;top:6px">118</span></div>
<div class="c d" style="left:786px;top:1214.2px;width:64px;height:52.1px;"><span class="t" style="left:-6.5px;top:6px">350</span></div>
<div class="c d" style="left:850px;top:1214.2px;width:63px;height:52.1px;"><span class="t" style="left:-5.5px;top:6px">120</span></div>
<div class="c d" style="left:913px;top:1214.2px;width:62px;height:52.1px;"><span class="t" style="left:-5.5px;top:6px">70</span></div>
<div class="c d" style="left:975px;top:1214.2px;width:64px;height:52.1px;"><span class="t" style="left:0px;top:6px">240</span></div>
<div class="c d" style="left:1039px;top:1214.2px;width:63px;height:52.1px;"><span class="t" style="left:0px;top:6px">220</span></div>
<div class="c d" style="left:1102px;top:1214.2px;width:63px;height:52.1px;"><span class="t" style="left:0px;top:6px">9</span></div>
<div class="c d" style="left:494px;top:1266.3px;width:69px;height:52.1px;"><span class="t" style="left:-7px;top:6px">/3</span></div>
<div class="c d" style="left:563px;top:1266.3px;width:59px;height:52.1px;"><span class="t" style="left:0px;top:6px">325</span></div>
<div class="c d" style="left:622px;top:1266.3px;width:101px;height:52.1px;"><span class="t" style="left:0px;top:6px">510/450</span></div>
<div class="c d" style="left:723px;top:1266.3px;width:63px;height:52.1px;"><span class="t" style="left:-5px;top:6px">118</span></div>
<div class="c d" style="left:786px;top:1266.3px;width:64px;height:52.1px;"><span class="t" style="left:-6.5px;top:6px">350</span></div>
<div class="c d" style="left:850px;top:1266.3px;width:63px;height:52.1px;"><span class="t" style="left:-5.5px;top:6px">120</span></div>
<div class="c d" style="left:913px;top:1266.3px;width:62px;height:52.1px;"><span class="t" style="left:-5.5px;top:6px">70</span></div>
<div class="c d" style="left:975px;top:1266.3px;width:64px;height:52.1px;"><span class="t" style="left:0px;top:6px">120</span></div>
<div class="c d" style="left:1039px;top:1266.3px;width:63px;height:52.1px;"><span class="t" style="left:0px;top:6px">220</span></div>
<div class="c d" style="left:1102px;top:1266.3px;width:63px;height:52.1px;"><span class="t" style="left:0px;top:6px">9</span></div>
<div class="c d" style="left:494px;top:1318.4px;width:69px;height:52.1px;"><span class="t" style="left:-7px;top:6px">/4</span></div>
<div class="c d" style="left:563px;top:1318.4px;width:59px;height:52.1px;"><span class="t" style="left:0px;top:6px">450</span></div>
<div class="c d" style="left:622px;top:1318.4px;width:101px;height:52.1px;"><span class="t" style="left:0px;top:6px">510/450</span></div>
<div class="c d" style="left:723px;top:1318.4px;width:63px;height:52.1px;"><span class="t" style="left:-5px;top:6px">118</span></div>
<div class="c d" style="left:786px;top:1318.4px;width:64px;height:52.1px;"><span class="t" style="left:-6.5px;top:6px">350</span></div>
<div class="c d" style="left:850px;top:1318.4px;width:63px;height:52.1px;"><span class="t" style="left:-5.5px;top:6px">120</span></div>
<div class="c d" style="left:913px;top:1318.4px;width:62px;height:52.1px;"><span class="t" style="left:-5.5px;top:6px">70</span></div>
<div class="c d" style="left:975px;top:1318.4px;width:64px;height:52.1px;"><span class="t" style="left:0px;top:6px">240</span></div>
<div class="c d" style="left:1039px;top:1318.4px;width:63px;height:52.1px;"><span class="t" style="left:0px;top:6px">220</span></div>
<div class="c d" style="left:1102px;top:1318.4px;width:63px;height:52.1px;"><span class="t" style="left:0px;top:6px">9</span></div>
<div class="c d" style="left:342px;top:1370.6px;width:152px;height:156.4px;"><span class="t">HS11-1500</span></div>
<div class="c d" style="left:1165px;top:1370.6px;width:125px;height:156.4px;"><span class="t">9 × 69.5</span></div>
<div class="c d" style="left:1290px;top:1370.6px;width:90px;height:156.4px;"><span class="t">4-M12</span></div>
<div class="c d" style="left:494px;top:1370.6px;width:69px;height:52.1px;"><span class="t" style="left:-7px;top:6px">/2</span></div>
<div class="c d" style="left:563px;top:1370.6px;width:59px;height:52.1px;"><span class="t" style="left:0px;top:6px">300</span></div>
<div class="c d" style="left:622px;top:1370.6px;width:101px;height:52.1px;"><span class="t" style="left:0px;top:6px">580/500</span></div>
<div class="c d" style="left:723px;top:1370.6px;width:63px;height:52.1px;"><span class="t" style="left:-5px;top:6px">128</span></div>
<div class="c d" style="left:786px;top:1370.6px;width:64px;height:52.1px;"><span class="t" style="left:-6.5px;top:6px">360</span></div>
<div class="c d" style="left:850px;top:1370.6px;width:63px;height:52.1px;"><span class="t" style="left:-5.5px;top:6px">130</span></div>
<div class="c d" style="left:913px;top:1370.6px;width:62px;height:52.1px;"><span class="t" style="left:-5.5px;top:6px">85</span></div>
<div class="c d" style="left:975px;top:1370.6px;width:64px;height:52.1px;"><span class="t" style="left:0px;top:6px">260</span></div>
<div class="c d" style="left:1039px;top:1370.6px;width:63px;height:52.1px;"><span class="t" style="left:0px;top:6px">260</span></div>
<div class="c d" style="left:1102px;top:1370.6px;width:63px;height:52.1px;"><span class="t" style="left:0px;top:6px">11</span></div>
<div class="c d" style="left:494px;top:1422.7px;width:69px;height:52.1px;"><span class="t" style="left:-7px;top:3px">/3</span></div>
<div class="c d" style="left:563px;top:1422.7px;width:59px;height:52.1px;"><span class="t" style="left:0px;top:3px">360</span></div>
<div class="c d" style="left:622px;top:1422.7px;width:101px;height:52.1px;"><span class="t" style="left:0px;top:3px">580/500</span></div>
<div class="c d" style="left:723px;top:1422.7px;width:63px;height:52.1px;"><span class="t" style="left:-5px;top:3px">128</span></div>
<div class="c d" style="left:786px;top:1422.7px;width:64px;height:52.1px;"><span class="t" style="left:-6.5px;top:3px">360</span></div>
<div class="c d" style="left:850px;top:1422.7px;width:63px;height:52.1px;"><span class="t" style="left:-5.5px;top:3px">130</span></div>
<div class="c d" style="left:913px;top:1422.7px;width:62px;height:52.1px;"><span class="t" style="left:-5.5px;top:3px">85</span></div>
<div class="c d" style="left:975px;top:1422.7px;width:64px;height:52.1px;"><span class="t" style="left:0px;top:3px">130</span></div>
<div class="c d" style="left:1039px;top:1422.7px;width:63px;height:52.1px;"><span class="t" style="left:0px;top:3px">260</span></div>
<div class="c d" style="left:1102px;top:1422.7px;width:63px;height:52.1px;"><span class="t" style="left:0px;top:3px">11</span></div>
<div class="c d" style="left:494px;top:1474.8px;width:69px;height:52.1px;"><span class="t" style="left:-7px;top:1px">/4</span></div>
<div class="c d" style="left:563px;top:1474.8px;width:59px;height:52.1px;"><span class="t" style="left:0px;top:1px">490</span></div>
<div class="c d" style="left:622px;top:1474.8px;width:101px;height:52.1px;"><span class="t" style="left:0px;top:1px">580/500</span></div>
<div class="c d" style="left:723px;top:1474.8px;width:63px;height:52.1px;"><span class="t" style="left:-5px;top:1px">128</span></div>
<div class="c d" style="left:786px;top:1474.8px;width:64px;height:52.1px;"><span class="t" style="left:-6.5px;top:1px">360</span></div>
<div class="c d" style="left:850px;top:1474.8px;width:63px;height:52.1px;"><span class="t" style="left:-5.5px;top:1px">130</span></div>
<div class="c d" style="left:913px;top:1474.8px;width:62px;height:52.1px;"><span class="t" style="left:-5.5px;top:1px">85</span></div>
<div class="c d" style="left:975px;top:1474.8px;width:64px;height:52.1px;"><span class="t" style="left:0px;top:1px">260</span></div>
<div class="c d" style="left:1039px;top:1474.8px;width:63px;height:52.1px;"><span class="t" style="left:0px;top:1px">260</span></div>
<div class="c d" style="left:1102px;top:1474.8px;width:63px;height:52.1px;"><span class="t" style="left:0px;top:1px">11</span></div>
</div>
<div id="note" class="abs">注：带 * 尺寸为板后型的尺寸</div>
</body></html>
